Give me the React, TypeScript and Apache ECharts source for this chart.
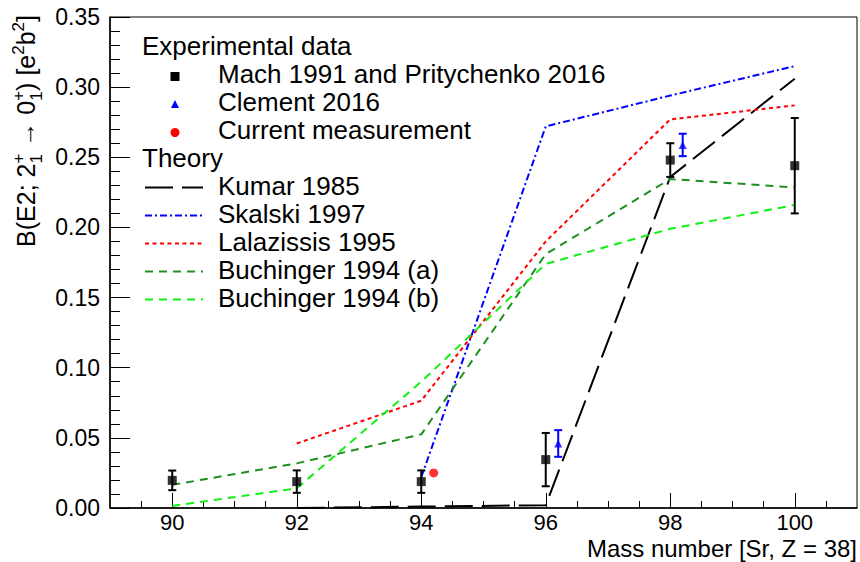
import React, { useEffect, useRef } from 'react';
import * as echarts from 'echarts';

// ---- data ----
const massNumbers = [90, 92, 94, 96, 98, 100];
const machValues = [0.0197, 0.0188, 0.0188, 0.0345, 0.248, 0.244];
const machErrors = [0.007, 0.008, 0.008, 0.019, 0.012, 0.034];

const clementMass = [96.2, 98.2];
const clementValues = [0.046, 0.2588];
const clementErrors = [0.0095, 0.008];

const currentMass = [94.2];
const currentValues = [0.025];

const kumarMass = [92, 94, 96, 98, 100];
const kumarValues = [0.0, 0.001, 0.002, 0.236, 0.306];

const skalskiMass = [94, 96, 98, 100];
const skalskiValues = [0.022, 0.272, 0.294, 0.315];

const lalazissisMass = [92, 94, 96, 98, 100];
const lalazissisValues = [0.046, 0.0765, 0.19, 0.277, 0.287];

const buchingerMass = [90, 92, 94, 96, 98, 100];
const buchingerAValues = [0.0165, 0.0318, 0.0525, 0.181, 0.2345, 0.2285];
const buchingerBValues = [0.0015, 0.014, 0.09, 0.174, 0.199, 0.216];

const xMajorTicks = [90, 92, 94, 96, 98, 100];
const xMinorTicks = [89.5, 90, 90.5, 91, 91.5, 92, 92.5, 93, 93.5, 94, 94.5, 95, 95.5, 96, 96.5, 97, 97.5, 98, 98.5, 99, 99.5, 100, 100.5];

const legendHeaders = ['Experimental data', 'Theory'];
const legendExperimental = ['Mach 1991 and Pritychenko 2016', 'Clement 2016', 'Current measurement'];
const legendTheory = ['Kumar 1985', 'Skalski 1997', 'Lalazissis 1995', 'Buchinger 1994 (a)', 'Buchinger 1994 (b)'];

const FONT = '"Liberation Sans", Arial, Helvetica, sans-serif';
const DARK_GREEN = '#1f8f1f';
const LIGHT_GREEN = '#11f011';
const TEXT_SIZE = 26;

const zip = (xs: number[], ys: number[]) => xs.map((x, i) => [x, ys[i]]);
const zip3 = (xs: number[], ys: number[], es: number[]) => xs.map((x, i) => [x, ys[i], es[i]]);

const errorBarItem = (color: string) => (params: any, api: any) => {
  const x = api.value(0);
  const y = api.value(1);
  const e = api.value(2);
  const top = api.coord([x, y + e]);
  const bot = api.coord([x, y - e]);
  const cap = 4;
  const style = { stroke: color, lineWidth: 2 };
  return {
    type: 'group',
    children: [
      { type: 'line', shape: { x1: top[0], y1: top[1], x2: bot[0], y2: bot[1] }, style },
      { type: 'line', shape: { x1: top[0] - cap, y1: top[1], x2: top[0] + cap, y2: top[1] }, style },
      { type: 'line', shape: { x1: bot[0] - cap, y1: bot[1], x2: bot[0] + cap, y2: bot[1] }, style },
    ],
  };
};

function buildYTitle() {
  const ctx = document.createElement('canvas').getContext('2d') as CanvasRenderingContext2D;
  const F = 25;
  const S = 17;
  const measure = (t: string, s: number) => {
    ctx.font = `${s}px ${FONT}`;
    return ctx.measureText(t).width;
  };
  const SUP = -11;
  const SUB = 7;
  const parts: { t: string; s: number; dy: number }[][] = [
    [{ t: 'B(E2; 2', s: F, dy: 0 }],
    [{ t: '+', s: S, dy: SUP }, { t: '1', s: S, dy: SUB }],
    [{ t: ' \u2192 0', s: F, dy: 0 }],
    [{ t: '+', s: S, dy: SUP }, { t: '1', s: S, dy: SUB }],
    [{ t: ') [e', s: F, dy: 0 }],
    [{ t: '2', s: S, dy: SUP }],
    [{ t: 'b', s: F, dy: 0 }],
    [{ t: '2', s: S, dy: SUP }],
    [{ t: ']', s: F, dy: 0 }],
  ];
  let x = 0;
  const children: any[] = [];
  for (const grp of parts) {
    let wmax = 0;
    for (const p of grp) {
      const full = measure(p.t, p.s);
      wmax = Math.max(wmax, full);
      const trimmed = p.t.replace(/^\s+/, '');
      const lead = measure(p.t.slice(0, p.t.length - trimmed.length), p.s);
      children.push({
        type: 'text',
        x: x + lead,
        y: p.dy - 0.35 * p.s,
        style: {
          text: trimmed,
          fontSize: p.s,
          fontFamily: FONT,
          fill: '#000',
          textAlign: 'left',
          textVerticalAlign: 'middle',
        },
      });
    }
    x += wmax;
  }
  return { type: 'group', x: 35, y: 15 + x, rotation: Math.PI / 2, children };
}

function buildLegend() {
  const rowY = (i: number) => 45.5 + 28 * i;
  const textX = 218;
  const headerX = 142;
  const markerX = 175;
  const lineX1 = 145;
  const lineX2 = 203;
  const els: any[] = [];
  const txt = (x: number, y: number, t: string) => ({
    type: 'text',
    x,
    y,
    style: { text: t, fontSize: TEXT_SIZE, fontFamily: FONT, fill: '#000', textAlign: 'left', textVerticalAlign: 'middle' },
  });
  els.push(txt(headerX, rowY(0), legendHeaders[0]));
  legendExperimental.forEach((t, i) => els.push(txt(textX, rowY(1 + i), t)));
  els.push(txt(headerX, rowY(4), legendHeaders[1]));
  legendTheory.forEach((t, i) => els.push(txt(textX, rowY(5 + i), t)));
  // markers
  const my1 = rowY(1) + 3;
  els.push({ type: 'rect', shape: { x: markerX - 4.5, y: my1 - 4.5, width: 9, height: 9 }, style: { fill: '#000' } });
  const my2 = rowY(2) + 3;
  els.push({
    type: 'polygon',
    shape: { points: [[markerX, my2 - 4.5], [markerX - 4, my2 + 3.5], [markerX + 4, my2 + 3.5]] },
    style: { fill: '#0000ff' },
  });
  const my3 = rowY(3) + 3;
  els.push({ type: 'circle', shape: { cx: markerX, cy: my3, r: 4.5 }, style: { fill: '#ff0000' } });
  // line samples
  const lineDefs = [
    { color: '#000', dash: [28, 9] },
    { color: '#0000ff', dash: [7, 3, 2, 3] },
    { color: '#ff0000', dash: [4, 3.5] },
    { color: DARK_GREEN, dash: [8, 6] },
    { color: LIGHT_GREEN, dash: [8, 6] },
  ];
  lineDefs.forEach((d, i) => {
    const y = rowY(5 + i) + 2;
    els.push({
      type: 'line',
      shape: { x1: lineX1, y1: y, x2: lineX2, y2: y },
      style: { stroke: d.color, lineWidth: 2, lineDash: d.dash },
    });
  });
  return els;
}

export default function App() {
  const ref = useRef<HTMLDivElement>(null);
  useEffect(() => {
    if (!ref.current) return;
    const chart = echarts.init(ref.current, undefined, { renderer: 'svg' });
    const lineSeries = (name: string, xs: number[], ys: number[], color: string, dash: number[]) => ({
      name,
      type: 'line',
      xAxisIndex: 0,
      data: zip(xs, ys),
      symbol: 'none',
      lineStyle: { color, width: 2, type: dash },
      z: 2,
    });
    const option: any = {
      animation: false,
      backgroundColor: '#fff',
      textStyle: { fontFamily: FONT },
      grid: { left: 110, right: 3, top: 17, bottom: 54, show: true, borderColor: '#000', borderWidth: 1, backgroundColor: 'transparent' },
      xAxis: [
        {
          type: 'value',
          min: 89,
          max: 101,
          interval: 1,
          position: 'bottom',
          axisLine: { show: true, onZero: false, lineStyle: { color: '#000', width: 1.5 } },
          axisTick: { show: true, inside: true, length: 15, customValues: xMajorTicks, lineStyle: { color: '#000', width: 1 } },
          axisLabel: {
            show: true,
            customValues: xMajorTicks,
            fontSize: 22,
            color: '#000',
            margin: 3,
            fontFamily: FONT,
            formatter: (v: number) => String(v),
          },
          splitLine: { show: false },
        },
        {
          type: 'value',
          min: 89,
          max: 101,
          interval: 0.5,
          position: 'bottom',
          axisLine: { show: false },
          axisTick: { show: true, inside: true, length: 7, customValues: xMinorTicks, lineStyle: { color: '#000', width: 1 } },
          axisLabel: { show: false },
          splitLine: { show: false },
        },
      ],
      yAxis: {
        type: 'value',
        min: 0,
        max: 0.35,
        interval: 0.05,
        axisLine: { show: true, onZero: false, lineStyle: { color: '#000', width: 1.5 } },
        axisTick: { show: true, inside: true, length: 20, lineStyle: { color: '#000', width: 1 } },
        minorTick: { show: true, splitNumber: 5, length: 10, lineStyle: { color: '#000', width: 1 } },
        axisLabel: { fontSize: 23, color: '#000', margin: 10, fontFamily: FONT, formatter: (v: number) => v.toFixed(2) },
        splitLine: { show: false },
        minorSplitLine: { show: false },
      },
      series: [
        lineSeries('Kumar 1985', kumarMass, kumarValues, '#000', [28, 9]),
        lineSeries('Skalski 1997', skalskiMass, skalskiValues, '#0000ff', [7, 3, 2, 3]),
        lineSeries('Lalazissis 1995', lalazissisMass, lalazissisValues, '#ff0000', [4, 3.5]),
        lineSeries('Buchinger 1994 (a)', buchingerMass, buchingerAValues, DARK_GREEN, [8, 6]),
        lineSeries('Buchinger 1994 (b)', buchingerMass, buchingerBValues, LIGHT_GREEN, [8, 6]),
        {
          name: 'Mach errors',
          type: 'custom',
          xAxisIndex: 0,
          renderItem: errorBarItem('#000'),
          data: zip3(massNumbers, machValues, machErrors),
          encode: { x: 0, y: 1 },
          z: 3,
        },
        {
          name: 'Clement errors',
          type: 'custom',
          xAxisIndex: 0,
          renderItem: errorBarItem('#0000ff'),
          data: zip3(clementMass, clementValues, clementErrors),
          encode: { x: 0, y: 1 },
          z: 3,
        },
        {
          name: 'Mach 1991 and Pritychenko 2016',
          type: 'scatter',
          xAxisIndex: 0,
          data: zip(massNumbers, machValues),
          symbol: 'rect',
          symbolSize: 9,
          itemStyle: { color: '#000' },
          z: 4,
        },
        {
          name: 'Clement 2016',
          type: 'scatter',
          xAxisIndex: 0,
          data: zip(clementMass, clementValues),
          symbol: 'triangle',
          symbolSize: 8,
          itemStyle: { color: '#0000ff' },
          z: 4,
        },
        {
          name: 'Current measurement',
          type: 'scatter',
          xAxisIndex: 0,
          data: zip(currentMass, currentValues),
          symbol: 'circle',
          symbolSize: 9,
          itemStyle: { color: '#ff0000' },
          z: 4,
        },
      ],
      graphic: [
        ...buildLegend(),
        buildYTitle(),
        {
          type: 'text',
          x: 857,
          y: 548,
          style: {
            text: 'Mass number [Sr, Z = 38]',
            fontSize: 24,
            fontFamily: FONT,
            fill: '#000',
            textAlign: 'right',
            textVerticalAlign: 'middle',
          },
        },
      ],
    };
    chart.setOption(option);
    return () => chart.dispose();
  }, []);
  return <div ref={ref} style={{ position: 'fixed', left: 0, top: 0, width: 860, height: 562, background: '#fff' }} />;
}
